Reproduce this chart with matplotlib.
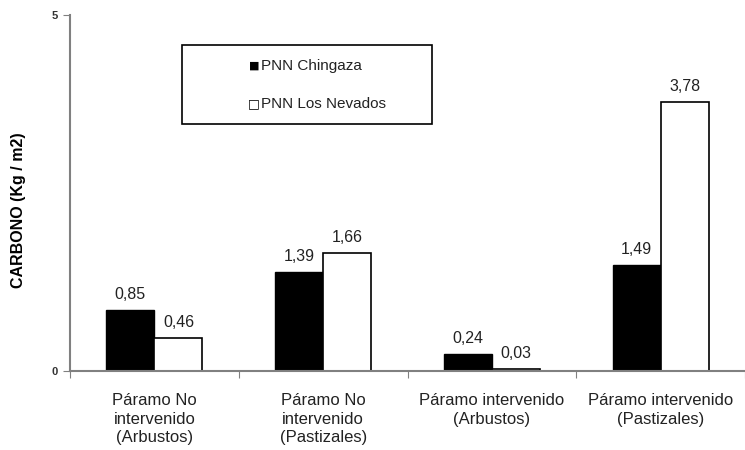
import matplotlib.pyplot as plt
import numpy as np
from matplotlib.patches import Rectangle

categories = ['Páramo No\nintervenido\n(Arbustos)', 'Páramo No\nintervenido\n(Pastizales)',
              'Páramo intervenido\n(Arbustos)', 'Páramo intervenido\n(Pastizales)']
chingaza = [0.85, 1.39, 0.24, 1.49]
nevados = [0.46, 1.66, 0.03, 3.78]
series_names = ['PNN Chingaza', 'PNN Los Nevados']

plt.rcParams['font.family'] = ['Liberation Sans', 'DejaVu Sans']

fig = plt.figure(figsize=(7.45, 4.5), dpi=100)
ax = fig.add_axes([0.094, 0.176, 0.906, 0.791])

x = np.arange(len(categories))
w = 0.285
ax.bar(x - w / 2, chingaza, w, color='black', edgecolor='black', linewidth=1)
ax.bar(x + w / 2, nevados, w, color='white', edgecolor='black', linewidth=1.2)

for xi, v in zip(x - w / 2, chingaza):
    ax.text(xi, v + 0.11, f'{v:.2f}'.replace('.', ','), ha='center', va='bottom', fontsize=11.5, color='#222222')
for xi, v in zip(x + w / 2, nevados):
    ax.text(xi, v + 0.11, f'{v:.2f}'.replace('.', ','), ha='center', va='bottom', fontsize=11.5, color='#222222')

ax.set_xlim(-0.5, len(categories) - 0.5)
ax.set_ylim(0, 5)
ax.set_yticks([0, 5])
ax.set_yticklabels(['0', '5'], fontsize=8, fontweight='bold', color='#333333')
ax.set_xticks(np.arange(len(categories) + 1) - 0.5)
ax.set_xticklabels([])
ax.set_xticks(x, minor=True)
ax.set_xticklabels(categories, minor=True, fontsize=12, color='#222222', linespacing=1.3)
ax.tick_params(axis='x', which='minor', length=0, pad=16)
ax.tick_params(axis='x', which='major', length=5, color='#808080', direction='out')
ax.tick_params(axis='y', length=5, color='#808080', direction='out')

for s in ['top', 'right']:
    ax.spines[s].set_visible(False)
for s in ['left', 'bottom']:
    ax.spines[s].set_color('#808080')
    ax.spines[s].set_linewidth(1.5)

ax.set_ylabel('CARBONO (Kg / m2)', fontsize=11.5, fontweight='bold', labelpad=18)
ax.yaxis.set_label_coords(-0.065, 0.45)

# legend box
box = Rectangle((182 / 745, 1 - 124 / 450), 250 / 745, 79 / 450, transform=fig.transFigure,
                facecolor='white', edgecolor='black', linewidth=1.2)
fig.patches.append(box)
fig.text(254 / 745, 1 - 66 / 450, '■', fontsize=8, ha='center', va='center', color='black',
         family='DejaVu Sans')
fig.text(254 / 745, 1 - 104 / 450, '□', fontsize=9, ha='center', va='center', color='black',
         family='DejaVu Sans', fontweight='bold')
fig.text(261 / 745, 1 - 66 / 450, series_names[0], fontsize=11, ha='left', va='center', color='#222222')
fig.text(261 / 745, 1 - 104 / 450, series_names[1], fontsize=11, ha='left', va='center', color='#222222')

fig.savefig('out.png', dpi=100)
